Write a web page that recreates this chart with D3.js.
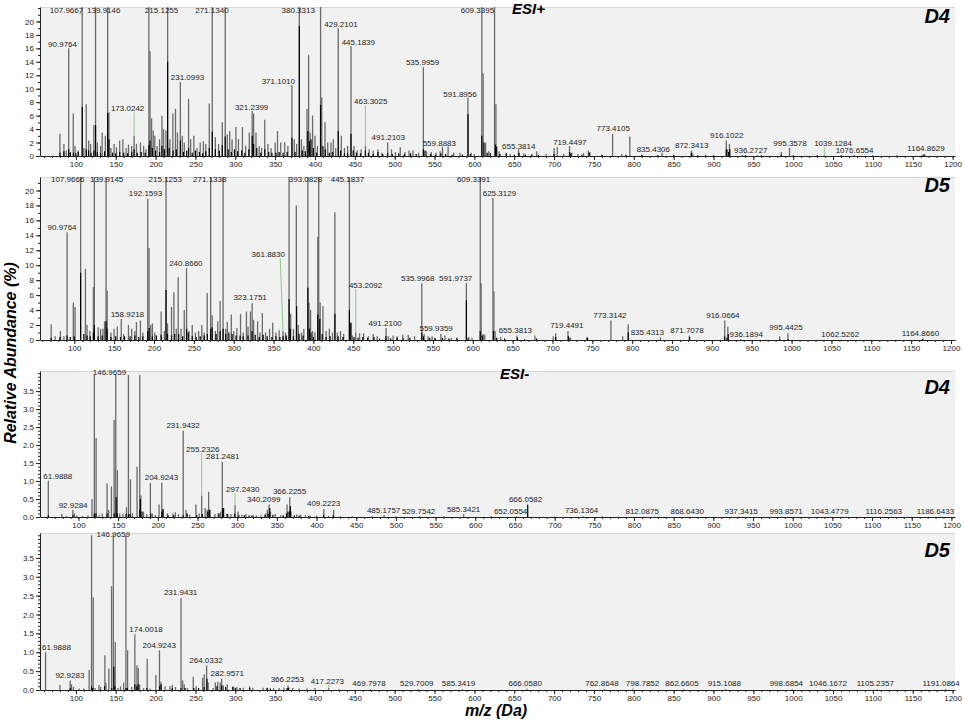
<!DOCTYPE html>
<html>
<head>
<meta charset="utf-8">
<style>body{margin:0;background:#fff}</style>
</head>
<body>
<svg width="964" height="721"></svg>
<script src="https://d3js.org/d3.v7.min.js"></script>
<script>

// ESI+ D4 : [m/z, relative abundance %]
var d4PosGray = [[80,3.3],[85,1.8],[88,0.8],[90.98,16],[93,0.6],[96.7,6.3],[99,1.5],[103,0.8],[107.97,25],[110,1.2],[113,7.7],[116,2.3],[118.5,1.8],[122.6,4.6],[124.7,25],[127,2],[131,1.5],[133,3.5],[137,3],[139.91,25],[141.5,6.5],[144,1.2],[148,1.8],[151,1.3],[155,2.3],[159,2.5],[163,1.2],[166,1.7],[170,1.5],[173.02,3],[176,1.8],[181,2],[185,1.5],[188,1],[191.6,25],[193,15.6],[195,5.6],[197,3.8],[199,3],[202,1.5],[205,2.5],[208,6],[210,4],[213,3.8],[215.13,25],[218,2.5],[221.7,6.3],[225,7],[227.5,3.5],[231.1,11],[233.5,3],[236,2],[241.4,8.5],[244,2.5],[248,3],[252,1.2],[256,2],[260,2.2],[263,1.8],[267.4,7.8],[271.13,25],[275,2.8],[279,1.8],[283.7,5],[287.4,25],[290,3.2],[293,3.7],[296,2.5],[300.8,4.3],[304,2.5],[309,4.3],[313,1.5],[317.6,3.5],[321.24,6.7],[323,6.3],[326,3.5],[330,1.5],[333,1.2],[337,5.4],[341,1.8],[345,1.2],[350,2],[353,3.7],[357,2],[362,2],[366,1.5],[371.1,10.5],[374,2.5],[377,1.8],[380.33,25],[383,2.5],[386,1.5],[390,7],[392,15],[394,3.5],[397,6],[400,3],[403,1.5],[407,25],[408.5,8.7],[412.6,5],[416,2],[420,2],[423,2.5],[426,1.2],[429.21,19],[433,3],[437,1.2],[441,1.5],[445.18,16.3],[449,1.5],[453,0.8],[458,1],[463.3,1.5],[468,1],[473,0.8],[479,1],[484,0.5],[491.21,2],[496,1],[501,0.6],[507,1.3],[513,0.6],[518,0.8],[523,0.8],[530,0.5],[536,13.2],[540,0.7],[546,0.6],[552,0.5],[557,0.7],[560,1.4],[567,1.4],[574,0.5],[582,0.5],[591.9,8.7],[596,0.5],[600,0.3],[609.34,25],[611,12.3],[614,2],[618,0.7],[625.3,25],[627,7.7],[631,0.7],[640,0.5],[645,0.3],[655.4,1],[662,0.4],[672,0.3],[678,0.7],[690,0.3],[700,1.2],[704,1.3],[712,0.3],[719.4,1.5],[722,0.5],[730,0.3],[737,0.4],[743,0.8],[745,0.6],[760,0.2],[773.4,3.3],[785,0.3],[795,2.9],[810,0.2],[835.4,0.5],[850,0.2],[872.3,0.8],[874,0.4],[890,0.2],[916.1,2.3],[917.5,1],[920,1.8],[936.3,0.2],[955,0.1],[985,0.6],[995.4,1.2],[1039.1,0.1],[1076.7,0.15],[1162,0.2],[1164.9,0.3]];
var d4PosBlack = [[80,0.5],[85,0.7],[90.98,1],[93,0.5],[97,0.5],[100,0.4],[103,0.6],[107.97,7.3],[113,1],[116,0.8],[119,0.5],[122.6,0.8],[124.7,4.6],[127,0.6],[131,0.4],[136,0.7],[139.91,6.4],[141.5,2.5],[146,0.5],[150,0.4],[155,0.6],[160,0.5],[165,0.4],[170,0.6],[173,1],[177,0.5],[182,0.6],[187,0.5],[191.6,1.6],[193,2.3],[196,1.2],[200,0.8],[205,0.6],[208,1.5],[211,1],[215.13,14],[217,1.2],[222,0.8],[226,1],[231.1,2.3],[235,0.6],[239,0.8],[241.4,1.2],[246,0.5],[250,0.8],[255,0.6],[259,0.4],[263,0.7],[267.4,1.2],[271.13,3.6],[275,1],[280,0.8],[283.7,1.6],[287.4,2.9],[291,1],[295,0.6],[299,1],[303,0.7],[308,0.8],[312,0.5],[317,1],[321.24,3],[323,1.8],[327,1.2],[332,0.5],[337,1],[342,0.6],[346,0.5],[351,0.5],[355,0.6],[360,0.5],[365,0.6],[371.1,2.7],[375,0.6],[380.33,19.3],[384,0.8],[388,0.7],[391,3.7],[393,2.2],[395,2.5],[398,1.2],[402,0.5],[407,7.6],[410,1.5],[413,1],[418,0.5],[422,0.6],[429.21,3.7],[432,0.8],[437,0.4],[441,0.5],[445.18,3.3],[448,0.8],[452,0.5],[457,0.4],[463.3,0.8],[467,0.5],[473,0.3],[479,0.6],[485,0.3],[491.2,0.4],[497,0.3],[505,0.4],[512,0.3],[520,0.4],[527,0.3],[536,1],[538,0.8],[545,0.3],[551,0.2],[558,0.4],[564,0.3],[572,0.2],[585,0.2],[592,6.2],[595,0.3],[609.3,3],[612,2],[616,0.5],[620,0.4],[626.5,1.7],[628,1.4],[632,0.3],[640,0.4],[650,0.2],[656,0.5],[664,0.2],[672,0.2],[680,0.2],[700,0.3],[719.4,0.6],[721,0.4],[735,0.2],[744,0.5],[760,0.15],[790,0.2],[810,0.15],[830,0.15],[850,0.1],[872.3,0.5],[880,0.1],[900,0.1],[916.1,1],[919,0.6],[920.5,1],[940,0.1],[960,0.1],[985,0.2],[1000,0.1],[1030,0.1],[1060,0.1],[1100,0.08],[1130,0.08],[1164,0.2]];
// [label, peak m/z, peak %, label m/z, label %]
var d4PosLabels = [
  ["107.9667",107.97,21.3,88.3,21.3],["139.9146",139.91,21.3,135,21.3],["215.1255",215.13,21.3,207.5,21.3],
  ["271.1340",271.13,21.3,270.7,21.3],["380.3313",380.33,21.3,379,21.3],["609.3395",609.34,21.3,603.8,21.3],
  ["90.9764",90.98,16,83.3,16.2],["429.2101",429.21,19,432.6,19.2],["445.1839",445.18,16.3,454.4,16.5],
  ["231.0993",231.1,11,240,11.3],["371.1010",371.1,10.5,354,10.65],["535.9959",536,13.2,535,13.6],
  ["591.8956",591.9,8.7,582,8.8],["321.2399",321.24,6.7,320.5,6.9],["173.0242",173.02,3,164.9,6.7],
  ["463.3025",463.3,1.5,470,7.7],["491.2103",491.21,2,492,2.35],["559.8883",560,1.4,556,1.5],
  ["655.3814",655.4,1,655.7,1.05],["719.4497",719.4,1.5,719.8,1.7],["773.4105",773.4,3.3,774.2,3.7],
  ["835.4306",835.4,0.5,824.5,0.6],["872.3413",872.3,0.8,872.6,1.2],["916.1022",916.1,2.3,916.6,2.7],
  ["936.2727",936.3,0.2,946.7,0.4],["995.3578",995.4,1.2,996,1.5],["1039.1284",1039.1,0.1,1050,1.5],
  ["1076.6554",1076.7,0.15,1077,0.4],["1164.8629",1164.9,0.3,1166.6,0.75]];

// ESI+ D5
var d5PosGray = [[71,2.1],[76,0.5],[82.6,1.2],[87,0.5],[90.98,14.4],[98.8,5],[101,4.4],[107.97,25],[114,9.5],[116,2],[119.5,1.2],[124,7.1],[125.2,25],[130,1.7],[133,1.5],[136,1.5],[138,2.5],[139.91,25],[141.3,6.6],[146,1],[150,1.5],[154,1.8],[158.92,2.8],[162,0.8],[168,2],[172,1.5],[176,1.2],[178,2.4],[183,2.6],[186,1],[192.16,18.9],[193.8,12.3],[196,2],[198,2.2],[201,1],[209,3.8],[213,1.2],[215.13,25],[217,2.2],[222,4.4],[225,6.4],[228,1.5],[230.4,8.4],[234,1.5],[238,4],[240.87,9.6],[244,1.2],[248,2],[252,1],[256,1.2],[260,2],[263,1],[266.8,6.3],[271.13,25],[273,3.3],[277,1.2],[280,2.5],[283,5.2],[286.7,25],[290,1.5],[292,2.4],[297,3.4],[300,1.2],[304,1.6],[308.6,3.5],[312,1],[316,3.8],[318,1.8],[321,3.8],[323.18,4.9],[325,2.7],[330,2.5],[333,1],[336,3.6],[340,1],[345,1.5],[349,2.3],[353,1],[357,1.3],[361.88,1.2],[365,1],[369.5,25],[371.5,3.5],[375,1.5],[378.6,18],[381,2],[385,1],[388,1.5],[393.08,25],[394.5,5],[396.5,4],[399,1.2],[402,1],[405.5,13.8],[406.7,25],[408.5,5],[412,4.5],[416,1.2],[420,1.5],[424,1],[427,17.1],[430,1],[434,1.2],[438,0.8],[445.18,25],[447,2.3],[449,0.6],[453.21,1],[458,0.9],[463,0.9],[469,0.5],[475,0.8],[480,0.5],[491.21,1.6],[494,0.5],[500,0.6],[505,0.5],[512,0.7],[519,0.7],[527,0.5],[536,7.6],[539,0.8],[544,0.5],[549,0.5],[552,0.3],[559.94,0.8],[565,0.6],[573,0.3],[580,0.3],[591.97,7.6],[595,0.4],[599,0.3],[609.34,25],[610.5,7.6],[613,0.8],[615,0.7],[625.31,19],[626.5,6.5],[628,1.2],[635,0.4],[655.4,0.6],[678,0.6],[701,0.5],[704,0.9],[719.4,1.2],[743,0.4],[773.3,2.6],[788,0.5],[795,2.1],[835.4,0.3],[871.7,0.6],[916.07,2.6],[920,1.8],[936.2,0.1],[985,0.5],[995.4,0.9],[1062.5,0.05],[1164.9,0.2]];
var d5PosBlack = [[71,0.3],[82,0.4],[90.98,0.6],[95,0.4],[100,0.5],[107.97,9],[112,0.8],[116,0.6],[120,0.5],[124,1],[125.2,2],[130,0.5],[135,0.6],[139.91,2.5],[141.3,1.5],[146,0.4],[152,0.5],[158,0.4],[163,0.5],[170,0.5],[176,0.6],[181,0.4],[186,0.5],[192.16,1.2],[194,1.6],[198,0.5],[203,0.6],[209,0.7],[215.13,6.7],[217,0.8],[222,0.6],[226,0.8],[231,0.8],[236,0.5],[241,1.5],[243,1],[248,0.5],[253,0.4],[258,0.5],[263,0.6],[267,0.8],[271.13,1.5],[273,1.7],[278,0.8],[283,1.2],[286.7,1.5],[290,0.8],[294,1],[298,0.8],[303,0.6],[308,0.6],[312,0.5],[318,0.6],[323,1.2],[327,0.7],[332,0.4],[337,0.7],[342,0.5],[348,0.4],[353,0.5],[358,0.4],[362,0.5],[366,0.6],[369.5,5.5],[371,1.5],[375,0.5],[379,4.5],[382,0.8],[387,0.6],[393.08,7],[395,1.5],[397,1],[400,0.4],[405.5,3.4],[408,2.8],[411,0.8],[416,0.4],[421,0.5],[427,3.5],[431,0.5],[437,0.4],[445.18,4],[447,2.3],[451,0.4],[456,0.3],[462,0.4],[468,0.3],[476,0.4],[483,0.2],[491,0.5],[497,0.2],[505,0.3],[513,0.2],[521,0.3],[536,1],[538,0.5],[546,0.3],[553,0.2],[562,0.3],[570,0.2],[580,0.2],[591.97,5.3],[594,0.2],[609.34,1.2],[612,0.6],[626,1.2],[630,0.3],[640,0.2],[656,0.3],[665,0.1],[680,0.2],[704,0.4],[720,0.5],[722,0.3],[744,0.3],[795,1],[872,0.4],[916,0.5],[919,0.3],[920.5,0.8],[985,0.1],[996,0.1],[1164,0.1]];
var d5PosLabels = [
  ["107.9666",107.97,21.1,91.7,21.1],["139.9145",139.91,21.1,140.6,21.1],["215.1253",215.13,21.1,214.2,21.1],
  ["271.1338",271.13,21.1,270,21.1],["393.0828",393.08,21.1,390.1,21.1],["445.1837",445.18,21.1,442.7,21.1],
  ["609.3391",609.34,21.1,601,21.1],["192.1593",192.16,18.9,189.4,19.2],["90.9764",90.98,14.4,84.7,14.7],
  ["240.8660",240.87,9.6,240,9.9],["361.8830",361.88,1.2,343.4,11.1],["323.1751",323.18,4.9,320.6,5.3],
  ["158.9218",158.92,2.8,166.6,3.1],["453.2092",453.21,1,465.5,7],["535.9968",536,7.6,531,7.9],
  ["591.9737",591.97,7.6,578.5,7.9],["491.2100",491.21,1.6,490,1.9],["559.9359",559.94,0.8,554,1.25],
  ["625.3129",625.31,19,633.4,19.3],["655.3813",655.4,0.6,653.4,1],["719.4491",719.4,1.2,718,1.55],
  ["773.3142",773.3,2.6,772,3],["835.4313",835.4,0.3,819,0.67],["871.7078",871.7,0.6,868.8,1],
  ["916.0664",916.07,2.6,913.8,3],["936.1894",936.2,0.1,943,0.45],["995.4425",995.4,0.9,993,1.3],
  ["1062.5262",1062.5,0.05,1061,0.45],["1164.8660",1164.9,0.2,1161.7,0.6]];

// ESI- D4
var d4NegGray = [[61.99,1.0],[79,0.08],[85,0.03],[92.93,0.2],[95,0.1],[98,0.04],[105,0.03],[112,0.04],[117,0.5],[120,3.95],[122.2,2.2],[126,0.05],[130,0.1],[136,0.93],[138,0.2],[141.5,0.85],[144.9,2.7],[146.97,3.95],[149,1.3],[152,0.1],[156,0.08],[160.4,0.27],[162.9,3.95],[165.5,1.05],[168,0.1],[173.8,1.4],[177.2,3.95],[178.5,0.6],[182,0.15],[186,0.08],[190.6,0.95],[193,0.1],[197,0.06],[201.5,0.35],[204.92,0.95],[206.5,0.2],[212,0.1],[219,0.1],[222,0.13],[226,0.08],[231.94,2.4],[235.5,0.2],[240,0.06],[248,0.35],[252,0.1],[255.23,0.6],[259.5,0.25],[262,0.2],[264,0.7],[266,0.2],[272,0.08],[276,0.1],[279,0.15],[281.25,1.53],[283,0.25],[287,0.1],[292,0.08],[297.24,0.33],[301,0.15],[306,0.06],[311,0.08],[318,0.05],[324,0.05],[330,0.05],[336,0.1],[338,0.2],[340.21,0.35],[342,0.15],[348,0.08],[355,0.05],[362.8,0.35],[366.23,0.55],[368,0.15],[375,0.07],[380,0.06],[386,0.05],[392,0.04],[400,0.04],[409.22,0.22],[415,0.03],[421.5,0.2],[430,0.02],[445,0.02],[470,0.02],[485.18,0.05],[500,0.02],[529.75,0.02],[560,0.02],[585.34,0.08],[620,0.02],[652.06,0.02],[700,0.01],[736.14,0.02],[760,0.02],[812.09,0.01],[868.64,0.01],[937.34,0.01],[993.86,0.01],[1043.48,0.01],[1116.26,0.01],[1186.64,0.01]];
var d4NegBlack = [[61.99,0.05],[93,0.05],[120,0.1],[122,0.1],[136,0.1],[145,0.1],[147.5,0.55],[149,0.1],[160,0.08],[163,0.08],[165,0.08],[177.2,0.2],[178,0.5],[180,0.15],[191,0.1],[205,0.15],[206.5,0.22],[213,0.05],[220,0.05],[232,0.05],[237,0.1],[249,0.05],[256,0.08],[263,0.15],[265,0.2],[277,0.1],[281.5,0.25],[282.5,0.25],[288,0.08],[297,0.1],[302,0.05],[309,0.05],[315,0.04],[320,0.04],[335,0.06],[339,0.1],[341,0.25],[345,0.06],[358,0.05],[362,0.1],[364,0.15],[366,0.15],[367,0.3],[372,0.05],[378,0.04],[390,0.03],[409,0.05],[421,0.05],[666.06,0.35]];
var d4NegLabels = [
  ["61.9888",61.99,1.0,73.9,1.06],["92.9284",92.93,0.2,93.2,0.26],["146.9659",146.97,3.95,139,3.95],
  ["231.9432",231.94,2.4,231.8,2.47],["255.2326",255.23,0.6,256.5,1.8],["281.2481",281.25,1.53,281.7,1.6],
  ["204.9243",204.92,0.95,204.5,1.03],["297.2430",297.24,0.33,307,0.69],["366.2255",366.23,0.55,366,0.63],
  ["340.2099",340.21,0.35,333.4,0.42],["409.2223",409.22,0.22,408.9,0.31],["485.1757",485.18,0.05,484.5,0.12],
  ["529.7542",529.75,0.02,528.6,0.09],["585.3421",585.34,0.08,585.3,0.14],["666.0582",666.06,0.35,663.4,0.41],
  ["652.0554",652.06,0.02,644.5,0.07],["736.1364",736.14,0.02,734,0.11],["812.0875",812.09,0.01,810.3,0.08],
  ["868.6430",868.64,0.01,867,0.08],["937.3415",937.34,0.01,935,0.08],["993.8571",993.86,0.01,991.7,0.08],
  ["1043.4779",1043.48,0.01,1046.7,0.08],["1116.2563",1116.26,0.01,1114.7,0.08],["1186.6433",1186.64,0.01,1179.9,0.08]];

// ESI- D5
var d5NegGray = [[61.99,1.0],[80,0.13],[92.93,0.25],[94.5,0.15],[97,0.08],[104,0.04],[110,0.04],[116.7,0.53],[119.7,4.1],[121.8,2.45],[124,0.05],[129,0.13],[131,0.08],[136.4,0.92],[137.7,0.2],[141.4,0.57],[144.8,2.75],[146.97,4.1],[149.4,1.27],[153,0.05],[156,0.1],[160,0.2],[162.8,4.1],[164.9,1.05],[170,0.08],[174,1.47],[176.6,0.65],[178.3,0.58],[180,0.15],[185,0.05],[189.5,0.83],[193,0.04],[200.4,0.4],[204.92,1.05],[206.6,0.22],[212,0.1],[218,0.1],[221,0.13],[225,0.08],[231.94,2.43],[234,0.25],[236,0.15],[240,0.05],[247.3,0.35],[251,0.1],[259,0.32],[261,0.42],[264.03,0.65],[266,0.2],[272,0.05],[275,0.2],[278,0.22],[281,0.2],[282.96,0.3],[285,0.12],[290,0.15],[297,0.1],[302,0.08],[310,0.06],[318,0.1],[322,0.06],[335,0.06],[340,0.06],[348,0.05],[355,0.05],[361,0.06],[366.23,0.12],[372,0.05],[380,0.04],[390,0.04],[400,0.05],[417.23,0.05],[430,0.02],[469.8,0.02],[529.7,0.02],[585.34,0.02],[666.06,0.03],[762.86,0.02],[798.79,0.02],[862.66,0.02],[915.11,0.02],[998.69,0.02],[1046.17,0.02],[1105.24,0.02],[1191.09,0.02]];
var d5NegBlack = [[92.93,0.05],[119.7,0.1],[121,0.05],[136,0.1],[145,0.05],[147.7,0.62],[149,0.1],[162.8,0.05],[164.5,0.05],[174,0.15],[176.5,0.1],[178,0.15],[189,0.05],[205,0.1],[207,0.15],[221,0.05],[231.9,0.05],[237,0.05],[248,0.05],[254,0.05],[261,0.08],[264.5,0.3],[277,0.1],[283,0.12],[288,0.08],[297,0.08],[300,0.06],[306,0.05],[318,0.05],[340,0.05],[344,0.04],[365,0.05],[367,0.06]];
var d5NegLabels = [
  ["146.9659",146.97,4.06,146.9,4.06],["61.9888",61.99,1.0,75.7,1.07],["92.9283",92.93,0.25,92.5,0.33],
  ["231.9431",231.94,2.43,231.4,2.52],["174.0018",174,1.47,187.9,1.54],["204.9243",204.92,1.05,204.6,1.12],
  ["264.0332",264.03,0.65,263.2,0.72],["282.9571",282.96,0.3,290,0.37],["366.2253",366.23,0.12,365.3,0.22],
  ["417.2273",417.23,0.05,415.5,0.17],["469.7978",469.8,0.02,467.8,0.1],["529.7009",529.7,0.02,527.6,0.1],
  ["585.3419",585.34,0.02,580,0.1],["666.0580",666.06,0.03,663.7,0.1],["762.8648",762.86,0.02,760,0.1],
  ["798.7852",798.79,0.02,811,0.1],["862.6605",862.66,0.02,860.4,0.1],["915.1088",915.11,0.02,913.6,0.1],
  ["998.6854",998.69,0.02,991.4,0.1],["1046.1672",1046.17,0.02,1043.7,0.1],["1105.2357",1105.24,0.02,1103,0.1],
  ["1191.0864",1191.09,0.02,1185.6,0.1]];

var svg = d3.select("svg"),
    font = "'Liberation Sans', Arial, sans-serif",
    left = 40, right = 955;

var panels = [
  {gray: d4PosGray, black: d4PosBlack, labels: d4PosLabels, xDom: [55, 1203], yMax: 22.15,
   top: 7, base: 156, step: 2, minor: 1, fmt: d3.format("d"), tag: "D4", tagY: 23},
  {gray: d5PosGray, black: d5PosBlack, labels: d5PosLabels, xDom: [57, 1205], yMax: 21.8,
   top: 177, base: 340, step: 2, minor: 1, fmt: d3.format("d"), tag: "D5", tagY: 192},
  {gray: d4NegGray, black: d4NegBlack, labels: d4NegLabels, xDom: [51.5, 1204.5], yMax: 4.06,
   top: 371, base: 517, step: 0.5, minor: 0.1, fmt: d3.format(".1f"), tag: "D4", tagY: 394},
  {gray: d5NegGray, black: d5NegBlack, labels: d5NegLabels, xDom: [55, 1203], yMax: 4.16,
   top: 533, base: 690, step: 0.5, minor: 0.1, fmt: d3.format(".1f"), tag: "D5", tagY: 557}
];

panels.forEach(function(p) {
  var x = d3.scaleLinear().domain(p.xDom).range([left, right]);
  var y = d3.scaleLinear().domain([0, p.yMax]).range([p.base, p.top]).clamp(true);
  var g = svg.append("g");

  g.append("rect")
      .attr("x", left).attr("y", p.top)
      .attr("width", right - left).attr("height", p.base - p.top)
      .attr("fill", "#f1f1f1");
  g.append("line")
      .attr("x1", left).attr("x2", right).attr("y1", p.top + 0.5).attr("y2", p.top + 0.5)
      .attr("stroke", "#d6d6d6");

  // peaks
  g.append("g").selectAll("line")
    .data(p.gray)
    .enter().append("line")
      .attr("x1", function(d) { return x(d[0]); })
      .attr("x2", function(d) { return x(d[0]); })
      .attr("y1", y(0))
      .attr("y2", function(d) { return y(d[1]); })
      .attr("stroke", "#6a6a6a")
      .attr("stroke-width", 1.3);
  g.append("g").selectAll("line")
    .data(p.black)
    .enter().append("line")
      .attr("x1", function(d) { return x(d[0]); })
      .attr("x2", function(d) { return x(d[0]); })
      .attr("y1", y(0))
      .attr("y2", function(d) { return y(d[1]); })
      .attr("stroke", "#000")
      .attr("stroke-width", 1.2);

  // axes
  var majors = d3.range(0, 1201, 50).filter(function(v) { return v >= p.xDom[0] && v <= p.xDom[1]; });
  var minors = d3.range(0, 1201, 10).filter(function(v) { return v >= p.xDom[0] && v <= p.xDom[1]; });
  g.append("g")
      .attr("transform", "translate(0," + p.base + ")")
      .call(d3.axisBottom(x).tickValues(minors).tickSize(2).tickFormat(""))
      .call(function(a) { a.select(".domain").remove(); });
  var xa = g.append("g")
      .attr("transform", "translate(0," + p.base + ")")
      .call(d3.axisBottom(x).tickValues(majors).tickSize(4).tickSizeOuter(0).tickPadding(1.5).tickFormat(d3.format("d")));
  xa.select(".domain").attr("stroke", "#222");
  xa.selectAll("text").attr("font-family", font).attr("font-size", 8).attr("fill", "#222");

  var ymaj = d3.range(0, p.yMax, p.step).filter(function(v) { return v <= p.yMax - p.step * 0.35; });
  var ymin = d3.range(0, p.yMax, p.minor);
  g.append("g")
      .attr("transform", "translate(" + left + ",0)")
      .call(d3.axisLeft(y).tickValues(ymin).tickSize(2).tickFormat(""))
      .call(function(a) { a.select(".domain").remove(); });
  var ya = g.append("g")
      .attr("transform", "translate(" + left + ",0)")
      .call(d3.axisLeft(y).tickValues(ymaj).tickSize(4).tickSizeOuter(0).tickPadding(2).tickFormat(p.fmt));
  ya.select(".domain").attr("stroke", "#222");
  ya.selectAll("text").attr("font-family", font).attr("font-size", 8).attr("fill", "#222");
  g.selectAll(".tick line").attr("stroke", "#222");

  // peak labels with leader lines
  var lab = g.append("g").selectAll("g")
    .data(p.labels)
    .enter().append("g");
  lab.append("line")
      .filter(function(d) { return Math.abs(x(d[3]) - x(d[1])) > 8 || y(d[4]) - y(d[2]) < -4; })
      .attr("x1", function(d) {
        var dx = x(d[1]) - x(d[3]);
        return x(d[3]) + Math.max(-12, Math.min(12, dx));
      })
      .attr("y1", function(d) { return y(d[4]) + 1.5; })
      .attr("x2", function(d) { return x(d[1]); })
      .attr("y2", function(d) { return y(d[2]); })
      .attr("stroke", "#86cf86")
      .attr("stroke-width", 1);
  lab.append("text")
      .attr("x", function(d) { return x(d[3]); })
      .attr("y", function(d) { return y(d[4]); })
      .attr("text-anchor", "middle")
      .attr("font-family", font)
      .attr("font-size", 8)
      .attr("fill", "#222")
      .text(function(d) { return d[0]; });

  svg.append("text")
      .attr("x", 950).attr("y", p.tagY)
      .attr("text-anchor", "end")
      .attr("font-family", font)
      .attr("font-weight", "bold").attr("font-style", "italic")
      .attr("font-size", 20)
      .text(p.tag);
});

svg.append("text")
    .attr("x", 512).attr("y", 14)
    .attr("font-family", font).attr("font-weight", "bold").attr("font-style", "italic")
    .attr("font-size", 15)
    .text("ESI+");
svg.append("text")
    .attr("x", 500).attr("y", 379)
    .attr("font-family", font).attr("font-weight", "bold").attr("font-style", "italic")
    .attr("font-size", 15)
    .text("ESI-");

svg.append("text")
    .attr("x", 496).attr("y", 716)
    .attr("text-anchor", "middle")
    .attr("font-family", font).attr("font-weight", "bold").attr("font-style", "italic")
    .attr("font-size", 16)
    .text("m/z (Da)");
svg.append("text")
    .attr("transform", "translate(16,353) rotate(-90)")
    .attr("text-anchor", "middle")
    .attr("font-family", font).attr("font-weight", "bold").attr("font-style", "italic")
    .attr("font-size", 16)
    .text("Relative Abundance (%)");

</script>
</body>
</html>
